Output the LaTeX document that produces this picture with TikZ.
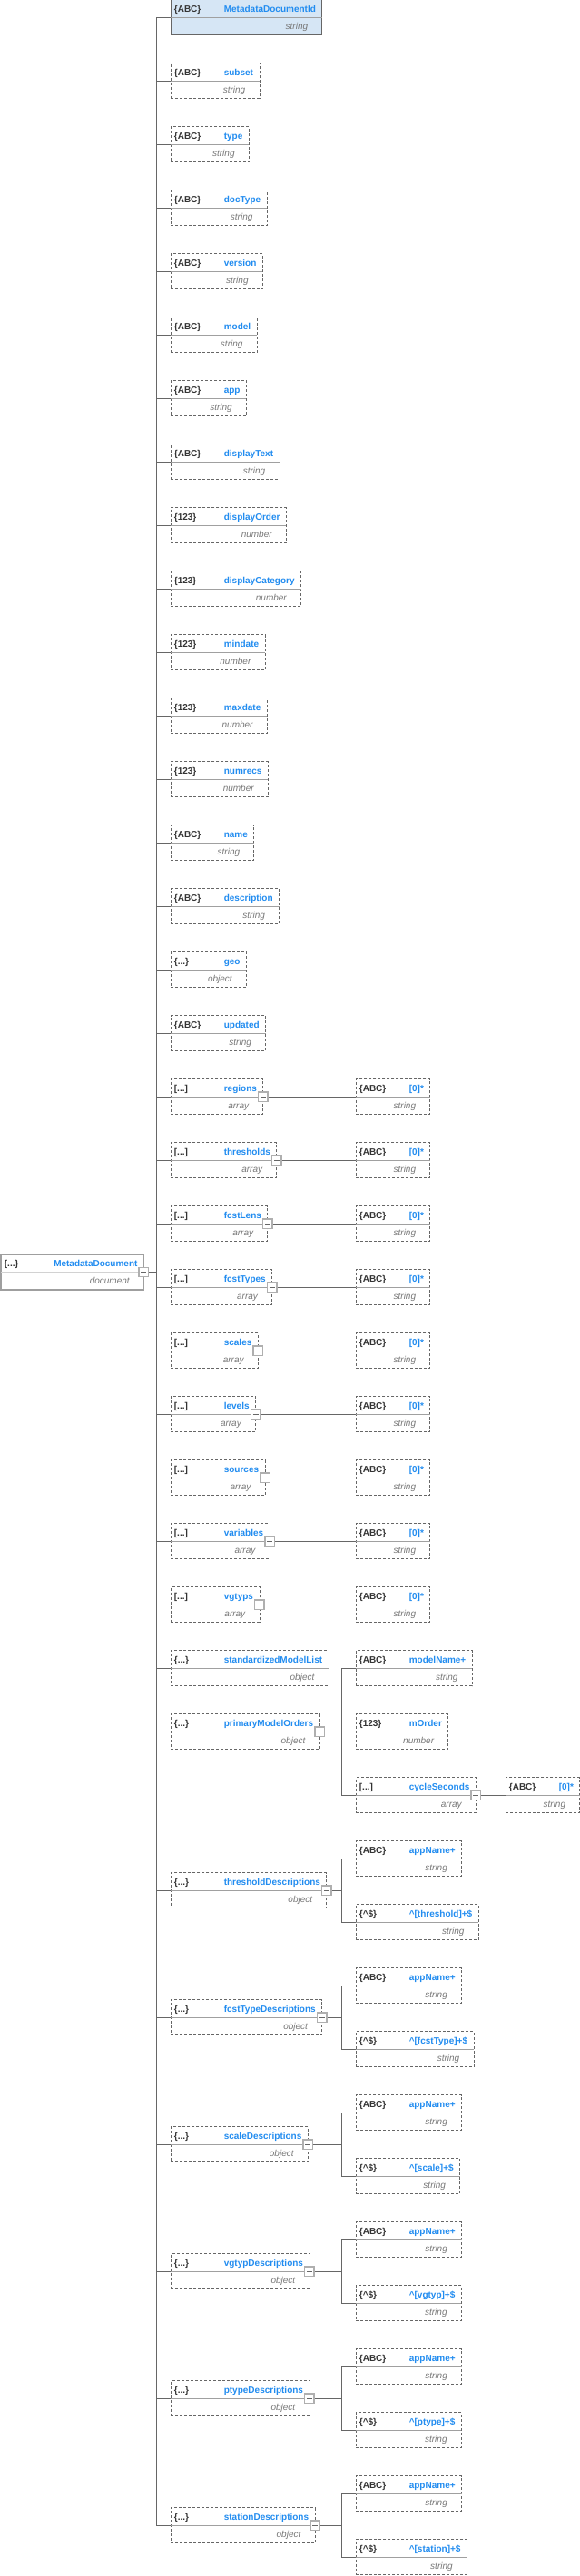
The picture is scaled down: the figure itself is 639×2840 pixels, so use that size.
\documentclass[tikz,border=0pt]{standalone}
\usepackage{fontspec}
\setmainfont{Liberation Sans}
\usetikzlibrary{calc}

\definecolor{namecol}{RGB}{33,140,240}
\definecolor{tagcol}{RGB}{51,51,51}
\definecolor{typecol}{RGB}{120,120,120}
\definecolor{linecol}{RGB}{102,102,102}
\definecolor{sepcol}{RGB}{160,160,160}
\definecolor{topfill}{RGB}{214,230,245}
\definecolor{togglecol}{RGB}{175,175,175}

\newcommand\propfont{\fontsize{10}{12}\selectfont\bfseries}
\newcommand\tagstr{\{ABC\}}\newcommand\typestr{string}
\newcommand\tagnum{\{123\}}\newcommand\typenum{number}
\newcommand\tagobj{\{...\}}\newcommand\typeobj{object}
\newcommand\tagarr{[...]}\newcommand\typearr{array}
\newcommand\tagpat{\{\textasciicircum\$\}}\newcommand\typepat{string}
\newcommand\tagdoc{\{...\}}\newcommand\typedoc{document}

\tikzset{
  prop/.style={draw=linecol,dash pattern=on 3pt off 2pt,line width=0.8pt,
    minimum height=39pt,inner sep=0pt,outer sep=0pt,text height=0pt,text depth=0pt,fill=white},
  topprop/.style={solid,fill=topfill,line width=1pt},
  rootprop/.style={solid,draw=gray!75,line width=1.5pt},
  sep/.style={draw=sepcol,line width=0.8pt},
  tagtext/.style={font=\propfont,text=tagcol,inner sep=0pt},
  nametext/.style={font=\propfont,text=namecol,inner sep=0pt},
  typetext/.style={font=\fontsize{10}{12}\selectfont\itshape,text=typecol,inner sep=0pt},
  link/.style={draw=linecol,line width=0.8pt},
  toggle/.style={draw=togglecol,line width=1.4pt,fill=white,minimum size=10.5pt,inner sep=0pt,
    path picture={\draw[linecol,line width=0.7pt]
      ([xshift=-3pt]path picture bounding box.center) -- ([xshift=3pt]path picture bounding box.center);}}
}

% box width = 58.7pt before the name, 6.7pt after it
\newcommand\propbox[5][]{%
  \node[prop,#1,anchor=west] (#2) at (#3) {\hspace*{65.4pt}\hphantom{\propfont #5}};
  \draw[sep] (#2.west) -- (#2.east);
  \node[tagtext,anchor=base west] (#2-tag) at ([shift={(3.4pt,6.3pt)}]#2.west) {\csname tag#4\endcsname};
  \node[nametext,anchor=base east] (#2-name) at ([shift={(-6.7pt,6.3pt)}]#2.east) {#5};
  \node[typetext,anchor=base east] (#2-type) at ([shift={(-15.5pt,-12.7pt)}]#2.east) {\csname type#4\endcsname};
}

\begin{document}
\begin{tikzpicture}[x=1pt,y=-1pt]
  \useasboundingbox (0,0) rectangle (639,2840);
  \coordinate (trunk) at (172.3,0);
  \coordinate (junction) at (376.7,0);

  \propbox[rootprop]{root}{0.75,1402.5}{doc}{MetadataDocument}
  \draw[draw=gray!35,line width=1.5pt] (root.west) -- (root.east);
  \propbox[topprop]{MetadataDocumentId}{188.3,19.3}{str}{MetadataDocumentId}

  \foreach \p/\k [count=\i] in {subset/str,type/str,docType/str,version/str,model/str,app/str,
      displayText/str,displayOrder/num,displayCategory/num,mindate/num,maxdate/num,numrecs/num,
      name/str,description/str,geo/obj,updated/str}
    {\propbox{\p}{188.3,{19.3+70*\i}}{\k}{\p}
     \draw[link] (\p.west -| trunk) -- (\p.west);}

  \foreach \p [count=\i from 17] in {regions,thresholds,fcstLens,fcstTypes,scales,levels,
      sources,variables,vgtyps}
    {\propbox{\p}{188.3,{19.3+70*\i}}{arr}{\p}
     \propbox{\p-item}{392.3,{19.3+70*\i}}{str}{[0]*}
     \draw[link] (\p.west -| trunk) -- (\p.west);
     \draw[link] (\p.east) -- (\p-item.west);}

  \propbox{standardizedModelList}{188.3,1839.3}{obj}{standardizedModelList}
  \propbox{primaryModelOrders}{188.3,1909.3}{obj}{primaryModelOrders}
  \propbox{modelName}{392.3,1839.3}{str}{modelName+}
  \propbox{mOrder}{392.3,1909.3}{num}{mOrder}
  \propbox{cycleSeconds}{392.3,1979.3}{arr}{cycleSeconds}
  \propbox{cycleSeconds-item}{557.3,1979.3}{str}{[0]*}
  \draw[link] (standardizedModelList.west -| trunk) -- (standardizedModelList.west);
  \draw[link] (primaryModelOrders.west -| trunk) -- (primaryModelOrders.west);
  \draw[link] (primaryModelOrders.east) -- (primaryModelOrders.east -| junction);
  \draw[link] (modelName.west) -- (modelName.west -| junction) -- (cycleSeconds.west -| junction)
    -- (cycleSeconds.west);
  \draw[link] (mOrder.west -| junction) -- (mOrder.west);
  \draw[link] (cycleSeconds.east) -- (cycleSeconds-item.west);

  \foreach \p/\q [count=\i from 0] in {thresholdDescriptions/threshold,fcstTypeDescriptions/fcstType,
      scaleDescriptions/scale,vgtypDescriptions/vgtyp,ptypeDescriptions/ptype,
      stationDescriptions/station}
    {\propbox{\p}{188.3,{19.3+70*(29.5+2*\i)}}{obj}{\p}
     \propbox{\q-app}{392.3,{19.3+70*(29+2*\i)}}{str}{appName+}
     \propbox{\q-key}{392.3,{19.3+70*(30+2*\i)}}{pat}{\textasciicircum[\q]+\$}
     \draw[link] (\p.west -| trunk) -- (\p.west);
     \draw[link] (\p.east) -- (\p.east -| junction);
     \draw[link] (\q-app.west) -- (\q-app.west -| junction) -- (\q-key.west -| junction)
       -- (\q-key.west);}

  \draw[link] (MetadataDocumentId.west -| trunk) -- (stationDescriptions.west -| trunk);
  \draw[link] (MetadataDocumentId.west -| trunk) -- (MetadataDocumentId.west);
  \draw[link] (root.east) -- (root.east -| trunk);

  %\draw[very thin,red] (0,0) grid[step=70] (639,2840);
  \foreach \p in {root,regions,thresholds,fcstLens,fcstTypes,scales,levels,sources,variables,
      vgtyps,primaryModelOrders,cycleSeconds,thresholdDescriptions,fcstTypeDescriptions,
      scaleDescriptions,vgtypDescriptions,ptypeDescriptions,stationDescriptions}
    \node[toggle] (\p-t) at (\p.east) {};
\end{tikzpicture}
\end{document}
